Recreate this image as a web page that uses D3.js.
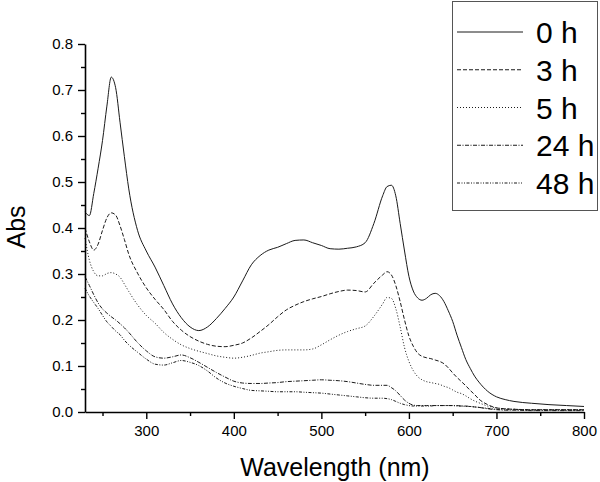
<!DOCTYPE html>
<html>
<head>
<meta charset="utf-8">
<script src="https://cdn.jsdelivr.net/npm/d3@7"></script>
<style>
  html, body { margin: 0; padding: 0; background: #fff; }
  svg { display: block; font-family: "Liberation Sans", Arial, sans-serif; }
</style>
</head>
<body>
<svg id="chart" width="600" height="482"></svg>
<script>
// Wavelength grid (nm)
const wavelengths = [
  230,235,240,245,250,255,260,265,270,275,280,
  290,300,310,320,330,340,350,360,370,380,390,400,410,420,430,440,450,460,470,480,490,500,510,520,530,540,550,560,570,
  575,580,585,590,595,600,605,610,615,620,625,630,635,640,645,650,655,660,665,670,675,680,
  690,700,710,720,740,760,780,800
];
const seriesNames = ["0 h", "3 h", "5 h", "24 h", "48 h"];
const abs0h = [
  0.435,0.427,0.475,0.53,0.59,0.665,0.728,0.705,0.63,0.555,0.485,
  0.395,0.35,0.315,0.275,0.235,0.205,0.185,0.177,0.185,0.203,0.225,0.25,0.285,0.32,0.34,0.352,0.358,0.366,0.373,0.374,0.368,0.362,0.355,0.354,0.356,0.359,0.368,0.41,0.47,
  0.49,0.493,0.47,0.41,0.35,0.295,0.263,0.248,0.243,0.247,0.255,0.258,0.253,0.24,0.22,0.197,0.167,0.14,0.114,0.095,0.078,0.065,
  0.045,0.033,0.027,0.023,0.019,0.016,0.014,0.012
];
const abs3h = [
  0.40,0.37,0.352,0.365,0.395,0.422,0.433,0.428,0.405,0.375,0.343,
  0.302,0.27,0.245,0.223,0.197,0.178,0.164,0.154,0.147,0.143,0.142,0.145,0.15,0.161,0.175,0.19,0.207,0.222,0.232,0.24,0.246,0.251,0.257,0.262,0.265,0.264,0.261,0.28,0.298,
  0.305,0.298,0.275,0.24,0.2,0.165,0.143,0.128,0.121,0.118,0.116,0.113,0.11,0.105,0.096,0.085,0.075,0.066,0.057,0.047,0.038,0.028,
  0.016,0.009,0.007,0.006,0.005,0.005,0.005,0.005
];
const abs5h = [
  0.378,0.33,0.305,0.296,0.296,0.301,0.303,0.3,0.293,0.278,0.262,
  0.233,0.21,0.193,0.173,0.158,0.146,0.138,0.132,0.127,0.122,0.119,0.117,0.119,0.123,0.128,0.131,0.134,0.135,0.135,0.135,0.137,0.146,0.157,0.167,0.175,0.181,0.187,0.208,0.235,
  0.249,0.247,0.225,0.185,0.14,0.11,0.09,0.077,0.07,0.066,0.064,0.062,0.06,0.056,0.053,0.048,0.043,0.04,0.035,0.029,0.024,0.02,
  0.013,0.009,0.007,0.006,0.005,0.005,0.005,0.005
];
const abs24h = [
  0.294,0.275,0.255,0.237,0.224,0.215,0.207,0.2,0.192,0.183,0.173,
  0.151,0.133,0.12,0.117,0.12,0.124,0.118,0.108,0.097,0.086,0.076,0.067,0.063,0.062,0.062,0.063,0.064,0.066,0.067,0.068,0.069,0.07,0.069,0.068,0.066,0.063,0.06,0.058,0.058,
  0.058,0.053,0.046,0.036,0.026,0.019,0.015,0.014,0.014,0.014,0.014,0.014,0.014,0.014,0.014,0.014,0.014,0.013,0.013,0.012,0.011,0.01,
  0.007,0.005,0.004,0.004,0.003,0.003,0.003,0.003
];
const abs48h = [
  0.269,0.252,0.238,0.225,0.21,0.196,0.186,0.176,0.168,0.156,0.146,
  0.13,0.115,0.104,0.102,0.107,0.112,0.108,0.101,0.089,0.074,0.063,0.056,0.051,0.047,0.046,0.045,0.044,0.044,0.044,0.043,0.042,0.041,0.039,0.037,0.035,0.033,0.031,0.03,0.03,
  0.029,0.027,0.023,0.019,0.016,0.014,0.013,0.013,0.013,0.013,0.013,0.014,0.014,0.014,0.014,0.014,0.013,0.013,0.012,0.012,0.011,0.01,
  0.008,0.006,0.005,0.005,0.004,0.004,0.004,0.004
];
const xMajorTicks = [300, 400, 500, 600, 700, 800];
const xMinorTicks = [250, 350, 450, 550, 650, 750];
const yMajorTicks = [0, 0.1, 0.2, 0.3, 0.4, 0.5, 0.6, 0.7, 0.8];
const yMinorTicks = [0.05, 0.15, 0.25, 0.35, 0.45, 0.55, 0.65, 0.75];

const allSeries = [abs0h, abs3h, abs5h, abs24h, abs48h];
const dashes = ["none", "4,2", "1,2", "4,1.5,1,1.5", "3,1.5,1,1.5,1,1.5"];

const svg = d3.select("#chart");
const x = d3.scaleLinear().domain([230, 800]).range([85, 584]);
const y = d3.scaleLinear().domain([0, 0.8]).range([412, 44]);

const line = d3.line()
  .x((d, i) => x(wavelengths[i]))
  .y(d => y(d))
  .curve(d3.curveMonotoneX);

// curves
svg.append("g").selectAll("path")
  .data(allSeries)
  .join("path")
  .attr("d", d => line(d))
  .attr("fill", "none")
  .attr("stroke", "#1a1a1a")
  .attr("stroke-width", 1)
  .attr("stroke-dasharray", (d, i) => dashes[i]);

// x axis
const gx = svg.append("g").attr("transform", "translate(0,412)");
gx.call(d3.axisBottom(x).tickValues(xMajorTicks).tickSize(7).tickSizeOuter(0).tickPadding(6).tickFormat(d3.format("d")));
gx.append("g").call(d3.axisBottom(x).tickValues(xMinorTicks).tickSize(4).tickFormat(""))
  .select(".domain").remove();
gx.selectAll(".domain").attr("stroke", "#000").attr("stroke-width", 1.6);
gx.selectAll(".tick line").attr("stroke", "#000").attr("stroke-width", 1.4);
gx.selectAll(".tick text").attr("font-size", 15).attr("fill", "#000")
  .attr("font-family", "'Liberation Sans', Arial, sans-serif");

// y axis
const gy = svg.append("g").attr("transform", "translate(85,0)");
gy.call(d3.axisLeft(y).tickValues(yMajorTicks).tickSize(7).tickSizeOuter(0).tickPadding(5).tickFormat(d3.format(".1f")));
gy.append("g").call(d3.axisLeft(y).tickValues(yMinorTicks).tickSize(4).tickFormat(""))
  .select(".domain").remove();
gy.selectAll(".domain").attr("stroke", "#000").attr("stroke-width", 1.6);
gy.selectAll(".tick line").attr("stroke", "#000").attr("stroke-width", 1.4);
gy.selectAll(".tick text").attr("font-size", 15).attr("fill", "#000")
  .attr("font-family", "'Liberation Sans', Arial, sans-serif");

// axis titles
svg.append("text")
  .attr("x", 335).attr("y", 476)
  .attr("text-anchor", "middle")
  .attr("font-size", 25)
  .text("Wavelength (nm)");
svg.append("text")
  .attr("transform", "translate(25,227) rotate(-90)")
  .attr("text-anchor", "middle")
  .attr("font-size", 25)
  .text("Abs");

// legend
const leg = svg.append("g");
leg.append("rect")
  .attr("x", 452.5).attr("y", 1.5).attr("width", 145).attr("height", 209)
  .attr("fill", "#fff").attr("stroke", "#555").attr("stroke-width", 1);
const rowY = d3.scaleLinear().domain([0, 4]).range([32, 183]);
const rows = leg.selectAll("g.row").data(seriesNames).join("g").attr("class", "row");
rows.append("line")
  .attr("x1", 457).attr("x2", 523)
  .attr("y1", (d, i) => rowY(i)).attr("y2", (d, i) => rowY(i))
  .attr("stroke", "#1a1a1a").attr("stroke-width", 1)
  .attr("stroke-dasharray", (d, i) => dashes[i]);
rows.append("text")
  .attr("x", 536).attr("y", (d, i) => rowY(i) + 11)
  .attr("font-size", 30)
  .text(d => d);
</script>
</body>
</html>
